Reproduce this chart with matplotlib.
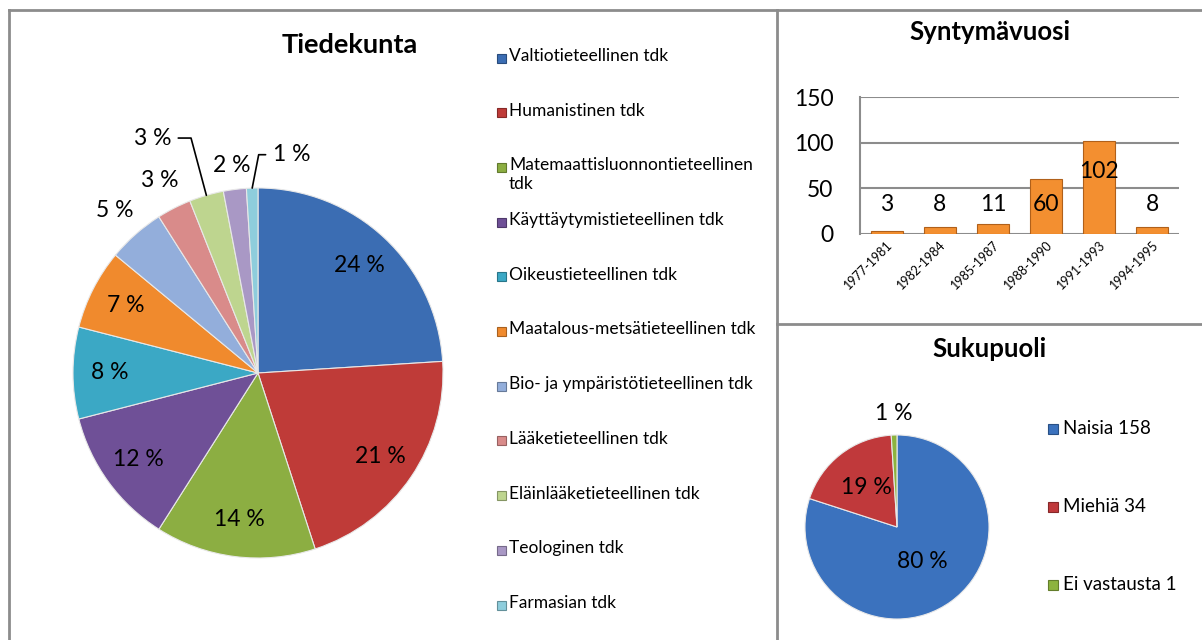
import numpy as np
import matplotlib
matplotlib.use("Agg")
import matplotlib.pyplot as plt

plt.rcParams['font.family'] = ['Lato', 'DejaVu Sans']

# Tiedekunta (faculty), shares in percent
faculties = ['Valtiotieteellinen tdk', 'Humanistinen tdk',
             'Matemaattisluonnontieteellinen\ntdk', 'Käyttäytymistieteellinen tdk',
             'Oikeustieteellinen tdk', 'Maatalous-metsätieteellinen tdk',
             'Bio- ja ympäristötieteellinen tdk', 'Lääketieteellinen tdk',
             'Eläinlääketieteellinen tdk', 'Teologinen tdk', 'Farmasian tdk']
faculty_pct = [24, 21, 14, 12, 8, 7, 5, 3, 3, 2, 1]
faculty_colors = ['#3b6db3', '#bf3b38', '#8cae42', '#6f5097', '#3ba8c5', '#f08a2d',
                  '#93aedb', '#d98b8a', '#bed58f', '#a998c5', '#8ecddc']

# Syntymävuosi (birth year)
years = ['1977-1981', '1982-1984', '1985-1987', '1988-1990', '1991-1993', '1994-1995']
year_counts = [3, 8, 11, 60, 102, 8]

# Sukupuoli (gender)
genders = ['Naisia 158', 'Miehiä 34', 'Ei vastausta 1']
gender_pct = [80, 19, 1]
gender_colors = ['#3b72be', '#c0393b', '#8db33e']

W, H = 1202, 640
fig = plt.figure(figsize=(W / 100, H / 100), dpi=100)


def px_axes(cx, cy, half):
    # square axes around a pixel centre
    return fig.add_axes([(cx - half) / W, (H - cy - half) / H, 2 * half / W, 2 * half / H])


def darker(c, f=0.7):
    r, g, b = matplotlib.colors.to_rgb(c)
    return (r * f, g * f, b * f)


# ---- Tiedekunta pie ----
R1 = 185.
ax1 = px_axes(258, 373, 250)
wedges, _ = ax1.pie(faculty_pct, colors=faculty_colors, startangle=90, counterclock=False,
                    wedgeprops=dict(edgecolor='#e8e8e8', linewidth=0.8))
lim = 250 / R1
ax1.set_xlim(-lim, lim)
ax1.set_ylim(-lim, lim)
ax1.axis('off')

for i, w in enumerate(wedges):
    mid = np.deg2rad((w.theta1 + w.theta2) / 2)
    txt = '%d %%' % faculty_pct[i]
    if i < 6:
        ax1.text(0.8 * np.cos(mid), 0.8 * np.sin(mid), txt, ha='center', va='center', fontsize=16.5)
    elif i in (6, 7, 9):
        r = 1.17 if i != 9 else 1.13
        ax1.text(r * np.cos(mid), r * np.sin(mid), txt, ha='center', va='center', fontsize=16.5)
    elif i == 8:
        ax1.annotate(txt, xy=(np.cos(mid), np.sin(mid)), xytext=(-0.57, 1.27),
                     ha='center', va='center', fontsize=16.5,
                     arrowprops=dict(arrowstyle='-', color='black', lw=1.2, shrinkA=3, shrinkB=0,
                                     connectionstyle='angle,angleA=0,angleB=105,rad=0'))
    else:
        ax1.annotate(txt, xy=(np.cos(mid), np.sin(mid)), xytext=(0.18, 1.18),
                     ha='center', va='center', fontsize=16.5,
                     arrowprops=dict(arrowstyle='-', color='black', lw=1.2, shrinkA=3, shrinkB=0,
                                     connectionstyle='angle,angleA=0,angleB=79,rad=0'))

# ---- Syntymävuosi bars ----
ax2 = fig.add_axes([860 / W, (H - 234) / H, 319 / W, 137 / H])
x = np.arange(len(years))
ax2.bar(x, year_counts, width=0.6, color='#f38f30', edgecolor='#b0601a', linewidth=0.8, zorder=3)
ax2.set_xlim(-0.5, len(years) - 0.5)
ax2.set_ylim(0, 150)
ax2.set_yticks([0, 50, 100, 150])
ax2.grid(axis='y', color='#8c8c8c', linewidth=1.5, zorder=0)
for s in ['top', 'right', 'bottom']:
    ax2.spines[s].set_visible(False)
ax2.spines['left'].set_color('#8c8c8c')
ax2.spines['left'].set_linewidth(1.5)
ax2.tick_params(axis='y', length=0, labelsize=16.5, pad=19)
ax2.tick_params(axis='x', length=0, labelsize=9, pad=3)
ax2.set_xticks(x)
ax2.set_xticklabels(years, rotation=45, ha='right', rotation_mode='anchor')
for xi, v in zip(x, year_counts):
    ax2.text(xi, max(v - 34, 32), str(v), ha='center', va='center', fontsize=16.5, zorder=4)

# ---- Sukupuoli pie ----
R2 = 92.
ax3 = px_axes(897, 527, 130)
w3, _ = ax3.pie(gender_pct, colors=gender_colors, startangle=90, counterclock=False,
                wedgeprops=dict(edgecolor='#e8e8e8', linewidth=0.8))
lim = 130 / R2
ax3.set_xlim(-lim, lim)
ax3.set_ylim(-lim, lim)
ax3.axis('off')
for i, w in enumerate(w3):
    mid = np.deg2rad((w.theta1 + w.theta2) / 2)
    r = [0.46, 0.55, 1.23][i]
    ax3.text(r * np.cos(mid), r * np.sin(mid), '%d %%' % gender_pct[i],
             ha='center', va='center', fontsize=16.5)

# ---- overlay: borders, titles, legends (pixel coords) ----
ov = fig.add_axes([0, 0, 1, 1], zorder=-1)
ov.set_xlim(0, W)
ov.set_ylim(H, 0)
ov.axis('off')
bc = '#8c8c8c'
ov.plot([8.5, W], [10, 10], color=bc, lw=2)
ov.plot([8.5, 8.5], [10, H], color=bc, lw=2)
ov.plot([777, 777], [10, H], color=bc, lw=2)
ov.plot([777, W], [324, 324], color=bc, lw=2)

ov.text(350, 45, 'Tiedekunta', ha='center', va='center', fontsize=19.5, fontweight='bold')
ov.text(990, 32, 'Syntymävuosi', ha='center', va='center', fontsize=18.5, fontweight='bold')
ov.text(990, 349, 'Sukupuoli', ha='center', va='center', fontsize=18.5, fontweight='bold')

leg = fig.add_axes([0, 0, 1, 1])
leg.set_xlim(0, W)
leg.set_ylim(H, 0)
leg.axis('off')
for i, (lab, col) in enumerate(zip(faculties, faculty_colors)):
    y = 58 + i * 54.7
    leg.add_patch(plt.Rectangle((497, y - 4.5), 9, 9, facecolor=col, edgecolor=darker(col), lw=0.8))
    leg.text(509, y - 10, lab, ha='left', va='top', fontsize=12.5, linespacing=1.2)

for i, (lab, col) in enumerate(zip(genders, gender_colors)):
    y = 429 + i * 78
    leg.add_patch(plt.Rectangle((1048, y - 5), 10, 10, facecolor=col, edgecolor=darker(col), lw=0.8))
    leg.text(1063, y, lab, ha='left', va='center', fontsize=13.5)

fig.savefig('out.png', dpi=100)
